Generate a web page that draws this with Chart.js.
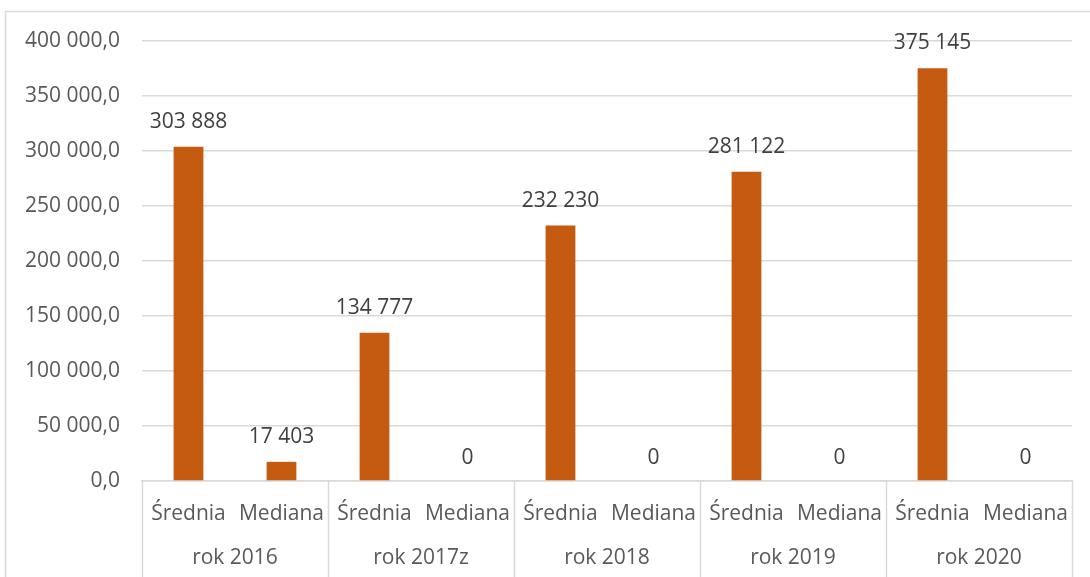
<!DOCTYPE html>
<html lang="pl">
<head>
  <meta charset="UTF-8">
  <title>Średnia i mediana</title>
  <style>
    html, body { margin: 0; padding: 0; background: #ffffff; }
    .wrap { position: relative; width: 1090px; height: 577px; }
  </style>
</head>
<body>
  <div class="wrap">
    <canvas id="wykres" width="1090" height="577"></canvas>
  </div>

  <script src="https://cdn.jsdelivr.net/npm/chart.js"></script>
  <script>
    // dane
    var kategorie = ['Średnia', 'Mediana', 'Średnia', 'Mediana', 'Średnia', 'Mediana', 'Średnia', 'Mediana', 'Średnia', 'Mediana'];
    var lata = ['rok 2016', 'rok 2017z', 'rok 2018', 'rok 2019', 'rok 2020'];
    var wartosci = [303888, 17403, 134777, 0, 232230, 0, 281122, 0, 375145, 0];
    var osY = [0, 50000, 100000, 150000, 200000, 250000, 300000, 350000, 400000];

    var FONT = '"Open Sans", sans-serif';
    var SZARY = '#d9d9d9';

    function tysiace(n) {
      return Math.round(n).toString().replace(/\B(?=(\d{3})+(?!\d))/g, ' ');
    }

    // ramka, separatory lat, etykiety lat i etykiety danych
    var dodatki = {
      id: 'dodatki',
      beforeDraw: function (chart) {
        var c = chart.ctx;
        c.save();
        c.strokeStyle = SZARY;
        c.lineWidth = 1.5;
        c.strokeRect(5.5, 11.5, 1100, 600);
        c.restore();
      },
      afterDraw: function (chart) {
        var c = chart.ctx;
        var x = chart.scales.x;
        var a = chart.chartArea;
        var szer = (a.right - a.left) / lata.length;
        c.save();
        c.strokeStyle = SZARY;
        c.lineWidth = 1.5;
        for (var i = 0; i <= lata.length; i++) {
          var px = Math.round(a.left + i * szer) + 0.5;
          c.beginPath();
          c.moveTo(px, a.bottom);
          c.lineTo(px, 577);
          c.stroke();
        }
        c.fillStyle = '#595959';
        c.font = '21px ' + FONT;
        c.textAlign = 'center';
        c.textBaseline = 'middle';
        lata.forEach(function (rok, i) {
          var sx = (x.getPixelForValue(i * 2) + x.getPixelForValue(i * 2 + 1)) / 2;
          c.fillText(rok, sx, 558);
        });
        // etykiety danych
        var meta = chart.getDatasetMeta(0);
        c.fillStyle = '#404040';
        meta.data.forEach(function (bar, i) {
          var dy = wartosci[i] === 0 ? 23 : 25;
          c.fillText(tysiace(wartosci[i]), bar.x, bar.y - dy);
        });
        c.restore();
      }
    };

    var ctx = document.getElementById('wykres').getContext('2d');
    var wykres = new Chart(ctx, {
      type: 'bar',
      data: {
        labels: kategorie,
        datasets: [{
          data: wartosci,
          backgroundColor: '#c55a11',
          borderWidth: 0,
          categoryPercentage: 1,
          barPercentage: 0.32
        }]
      },
      plugins: [dodatki],
      options: {
        responsive: false,
        animation: false,
        layout: { padding: { left: 0, top: 41, right: 18, bottom: 0 } },
        plugins: {
          legend: { display: false },
          tooltip: { enabled: false }
        },
        scales: {
          x: {
            grid: { display: false, drawTicks: false },
            border: { display: true, color: SZARY, width: 1.5 },
            ticks: {
              color: '#595959',
              font: { family: FONT, size: 21 },
              padding: 20,
              maxRotation: 0,
              autoSkip: false
            },
            afterFit: function (s) { s.height = 96; }
          },
          y: {
            min: 0,
            max: 400000,
            afterBuildTicks: function (s) {
              s.ticks = osY.map(function (v) { return { value: v }; });
            },
            grid: { color: SZARY, lineWidth: 1.5, drawTicks: false },
            border: { display: false },
            ticks: {
              color: '#595959',
              font: { family: FONT, size: 21 },
              padding: 22,
              callback: function (v) { return tysiace(v) + ',0'; }
            },
            afterFit: function (s) { s.width = 142; }
          }
        }
      }
    });
  </script>
</body>
</html>
